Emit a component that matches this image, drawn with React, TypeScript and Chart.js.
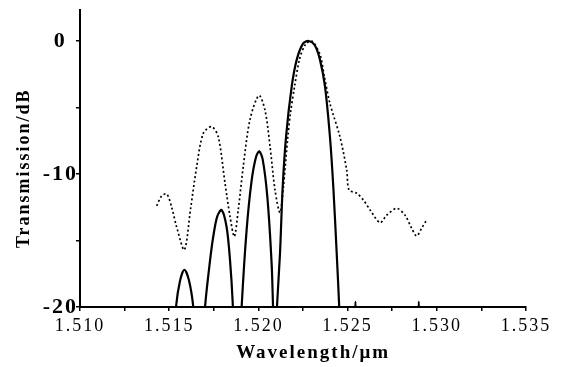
import React, { useEffect, useRef } from "react";
import Chart from "chart.js/auto";

// Wavelength (µm) and transmission (dB)
const solidWavelength: (number)[] = [
  1.51532, 1.51538, 1.51561, 1.51585, 1.51611, 1.51635, 1.51641,
  1.5167,
  1.51697, 1.51701, 1.51729, 1.51747, 1.51769, 1.51794, 1.51822, 1.51841, 1.51856, 1.5186,
  1.5188,
  1.51902, 1.51906, 1.51934, 1.51962, 1.51987, 1.52005, 1.52024, 1.5205, 1.52074, 1.52082, 1.52086,
  1.52095,
  1.521, 1.52104, 1.52121, 1.52136, 1.52155, 1.52187, 1.52215, 1.5225, 1.5228, 1.52315, 1.52345,
  1.52373, 1.52401, 1.5242, 1.52439, 1.52453, 1.52457,
  1.525,
  1.52535, 1.52544, 1.52553,
  1.527,
  1.5289, 1.52899, 1.52908,
];
const solidTransmission: (number | null)[] = [
  -22, -20, -18, -17.2, -18, -20, -22,
  null,
  -22, -20, -16.5, -14.7, -13.2, -12.7, -14, -16.5, -19.7, -22,
  null,
  -22, -20, -14.2, -10.5, -8.7, -8.3, -8.9, -11.7, -16.7, -20, -22,
  null,
  -22, -20, -16, -11, -7.2, -3.4, -1.4, -0.2, 0, -0.3, -1.4,
  -3.4, -7.2, -11, -16, -20, -22,
  null,
  -23, -19.6, -23,
  null,
  -23, -19.6, -23,
];

const dottedWavelength: number[] = [
  1.5143, 1.51455, 1.51486, 1.51514, 1.51542, 1.51585, 1.5162, 1.51654, 1.51691, 1.51738,
  1.51775, 1.51813, 1.51841, 1.51865, 1.51887, 1.51915, 1.51953, 1.52003, 1.52037, 1.52065,
  1.52093, 1.52121, 1.5214, 1.52165, 1.5218, 1.52203, 1.5223, 1.52262, 1.52299, 1.52345,
  1.5237, 1.52401, 1.52457, 1.52495, 1.52508, 1.52551, 1.52588, 1.52626, 1.52682, 1.52719,
  1.52775, 1.52822, 1.52859, 1.52887, 1.52915, 1.52943,
];
const dottedTransmission: number[] = [
  -12.4, -11.7, -11.5, -12.5, -14, -15.7, -12.6, -9.45, -6.94, -6.44,
  -7.2, -10.7, -13.2, -14.7, -12.7, -9.45, -5.9, -4.1, -5.2, -7.9,
  -11.2, -12.9, -11, -7.2, -5.4, -3.4, -1.4, -0.3, 0, -1,
  -2.7, -4.7, -7.2, -9.7, -11.2, -11.45, -11.95, -12.7, -13.66, -13.1,
  -12.58, -13.1, -14.08, -14.66, -14.08, -13.46,
];

const xTickValues: number[] = [1.51, 1.5125, 1.515, 1.5175, 1.52, 1.5225, 1.525, 1.5275, 1.53, 1.5325, 1.535];
const xTickLabels: string[] = ["1.510", "", "1.515", "", "1.520", "", "1.525", "", "1.530", "", "1.535"];
const yTickValues: number[] = [-20, -15, -10, -5, 0];
const yTickLabels: string[] = ["-20", "", "-10", "", "0"];

const spacingPlugin = {
  id: "letterSpacing",
  beforeDraw(chart: any) {
    chart.ctx.letterSpacing = "2px";
  },
  afterDraw(chart: any) {
    chart.ctx.letterSpacing = "0px";
  },
};

export default function App() {
  const ref = useRef<HTMLCanvasElement | null>(null);
  useEffect(() => {
    if (!ref.current) return;
    const solid = solidWavelength.map((x, i) => ({ x, y: solidTransmission[i] }));
    const dotted = dottedWavelength.map((x, i) => ({ x, y: dottedTransmission[i] }));
    const chart = new Chart(ref.current, {
      type: "line",
      data: {
        datasets: [
          {
            label: "solid",
            data: solid as any,
            borderColor: "#000",
            borderWidth: 2.2,
            pointRadius: 0,
            tension: 0.3,
            spanGaps: false,
            fill: false,
          },
          {
            label: "dotted",
            data: dotted as any,
            borderColor: "#000",
            borderWidth: 1.7,
            borderDash: [2, 2.5],
            pointRadius: 0,
            tension: 0.3,
            fill: false,
          },
        ],
      },
      options: {
        animation: false,
        responsive: true,
        maintainAspectRatio: false,
        layout: { padding: { top: 10, right: 40, left: 0, bottom: 0 } },
        plugins: { legend: { display: false }, tooltip: { enabled: false } },
        scales: {
          x: {
            type: "linear",
            min: 1.51,
            max: 1.535,
            afterBuildTicks: (s: any) => {
              s.ticks = xTickValues.map((v) => ({ value: v }));
            },
            afterFit: (s: any) => {
              s.height = 60;
              s.paddingLeft = 0;
              s.paddingRight = 0;
            },
            ticks: {
              autoSkip: false,
              maxRotation: 0,
              padding: 4,
              color: "#000",
              font: { family: "Liberation Serif", size: 18 },
              callback: (_v: any, i: number) => xTickLabels[i],
            },
            grid: { drawOnChartArea: false, tickLength: 4, color: "#000", lineWidth: 1.5 },
            border: { color: "#000", width: 2 },
            title: {
              display: true,
              text: "   Wavelength/\u03bcm",
              color: "#000",
              font: { family: "Liberation Serif", size: 19, weight: "bold" },
              padding: { top: 0, bottom: 3 },
            },
          },
          y: {
            type: "linear",
            min: -20,
            max: 2.33,
            afterBuildTicks: (s: any) => {
              s.ticks = yTickValues.map((v) => ({ value: v }));
            },
            afterFit: (s: any) => {
              s.width = 80;
              s.paddingTop = 0;
              s.paddingBottom = 0;
            },
            ticks: {
              padding: 1,
              crossAlign: "center",
              color: "#000",
              font: { family: "Liberation Serif", size: 22, weight: "bold" },
              callback: (_v: any, i: number) => yTickLabels[i],
            },
            grid: { drawOnChartArea: false, tickLength: 4, color: "#000", lineWidth: 1.5 },
            border: { color: "#000", width: 2 },
            title: {
              display: true,
              text: "Transmission/dB   ",
              color: "#000",
              font: { family: "Liberation Serif", size: 18, weight: "bold" },
              padding: { top: 14, bottom: 0 },
            },
          },
        },
      },
      plugins: [spacingPlugin],
    });
    return () => chart.destroy();
  }, []);
  return (
    <div style={{ position: "fixed", left: 0, top: 0, width: 566, height: 367, background: "#fff" }}>
      <canvas ref={ref} />
    </div>
  );
}
